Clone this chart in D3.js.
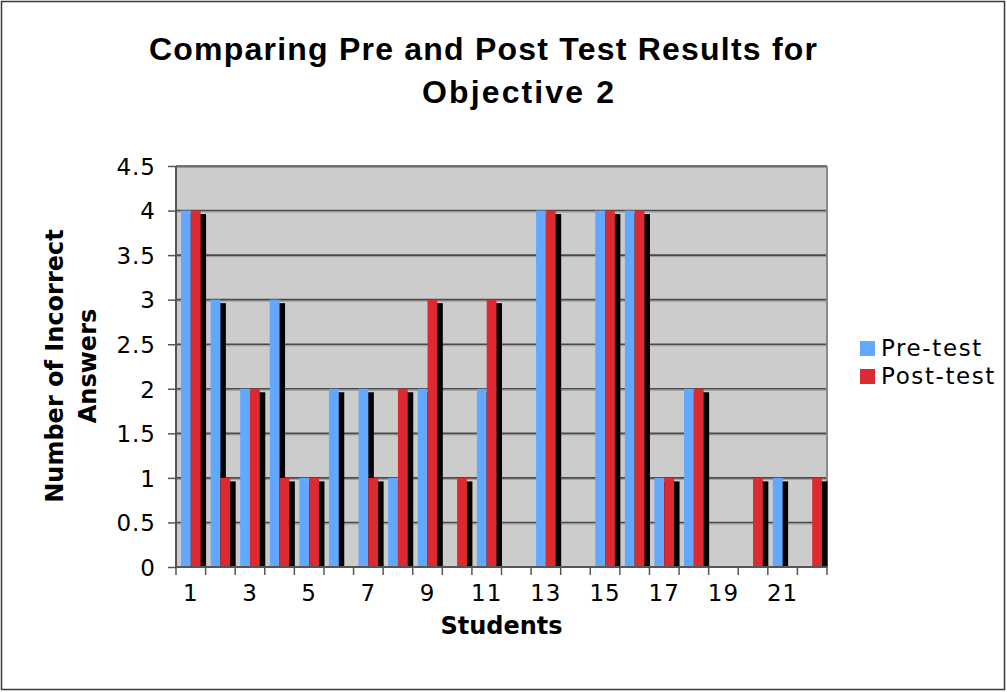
<!DOCTYPE html>
<html>
<head>
<meta charset="utf-8">
<script src="https://cdnjs.cloudflare.com/ajax/libs/d3/7.8.5/d3.min.js"></script>
<style>
body {margin:0; background:#fff;}
.tick-label {font-family:"DejaVu Sans",sans-serif; font-size:23px; fill:#000; letter-spacing:1px;}
.legend-label {font-family:"DejaVu Sans",sans-serif; font-size:23px; fill:#000; letter-spacing:1.6px;}
.axis-title {font-family:"DejaVu Sans",sans-serif; font-size:24px; font-weight:bold; fill:#000;}
.chart-title {font-family:"Liberation Sans",Arial,sans-serif; font-size:32px; font-weight:bold; fill:#000;}
</style>
</head>
<body>
<svg></svg>
<script>
// data
var students=["1","2","3","4","5","6","7","8","9","10","11","12","13","14","15","16","17","18","19","20","21","22"];
var preTest =[4,3,2,3,1,2,2,1,2,0,2,0,4,0,4,4,1,2,0,0,1,0];
var postTest=[4,1,2,1,1,0,1,2,3,1,3,0,4,0,4,4,1,2,0,1,0,1];
var seriesNames=["Pre-test","Post-test"];
var seriesColors=["#62a8ff","#dd2a30"];
var yTicks=[0,0.5,1,1.5,2,2.5,3,3.5,4,4.5];
var xTickLabels=["1","3","5","7","9","11","13","15","17","19","21"];

var width=1007, height=692;
var plotLeft=176, plotRight=827, plotTop=166, plotBottom=567;
var shadowDx=5.5, shadowDy=3.5;

var svg=d3.select("svg").attr("width",width).attr("height",height);

// outer frame
svg.append("rect")
	.attr("x",1.5).attr("y",1.5)
	.attr("width",width-4).attr("height",height-4)
	.attr("fill","#fff").attr("stroke","#3a3a3a").attr("stroke-width",1.5);

var x=d3.scaleBand().domain(students).range([plotLeft,plotRight]).paddingInner(0).paddingOuter(0);
var xSub=d3.scaleBand().domain(seriesNames).range([0,x.bandwidth()]).paddingInner(0).paddingOuter(0.51);
var y=d3.scaleLinear().domain([0,4.5]).range([plotBottom,plotTop]);

// plot area
svg.append("rect")
	.attr("x",plotLeft).attr("y",plotTop)
	.attr("width",plotRight-plotLeft).attr("height",plotBottom-plotTop)
	.attr("fill","#cccccc");

svg.append("clipPath").attr("id","plotclip")
	.append("rect")
	.attr("x",plotLeft).attr("y",plotTop-2)
	.attr("width",plotRight-plotLeft+8).attr("height",plotBottom-plotTop+2);

// gridlines, dark line with a soft line under it
var grid=svg.append("g");
grid.selectAll(".grid-shadow").data(yTicks.slice(1)).enter()
	.append("line")
	.attr("x1",plotLeft).attr("x2",plotRight)
	.attr("y1",function(d) {return y(d)+1.5;})
	.attr("y2",function(d) {return y(d)+1.5;})
	.attr("stroke","#9a9a9a").attr("stroke-width",1);
grid.selectAll(".grid").data(yTicks.slice(1)).enter()
	.append("line")
	.attr("x1",plotLeft).attr("x2",plotRight)
	.attr("y1",function(d) {return y(d);})
	.attr("y2",function(d) {return y(d);})
	.attr("stroke","#4a4a4a").attr("stroke-width",1.6);

// right border of plot
svg.append("line")
	.attr("x1",plotRight).attr("x2",plotRight)
	.attr("y1",plotTop).attr("y2",plotBottom)
	.attr("stroke","#8a8a8a").attr("stroke-width",2);

var rows=students.map(function(s,i) {
	return {student:s, values:[preTest[i],postTest[i]]};
});

var bars=svg.append("g").attr("clip-path","url(#plotclip)");

// each series: shadow then bar, so the red bar sits over the blue shadow
seriesNames.forEach(function(name,k) {
	var g=bars.append("g");
	var shown=rows.filter(function(d) {return d.values[k]>0;});
	g.selectAll(".shadow").data(shown).enter()
		.append("rect")
		.attr("x",function(d) {return x(d.student)+xSub(name)+shadowDx;})
		.attr("y",function(d) {return y(d.values[k])+shadowDy;})
		.attr("width",xSub.bandwidth())
		.attr("height",function(d) {return plotBottom-y(d.values[k]);})
		.attr("fill","#000");
	g.selectAll(".bar").data(shown).enter()
		.append("rect")
		.attr("x",function(d) {return x(d.student)+xSub(name);})
		.attr("y",function(d) {return y(d.values[k]);})
		.attr("width",xSub.bandwidth())
		.attr("height",function(d) {return plotBottom-y(d.values[k]);})
		.attr("fill",seriesColors[k]);
});

// y axis
var yAxis=svg.append("g").attr("transform","translate("+plotLeft+",0)")
	.call(d3.axisLeft(y).tickValues(yTicks).tickSize(8).tickPadding(12).tickFormat(function(d) {return String(d);}));
yAxis.select(".domain").attr("stroke","#555").attr("stroke-width",2).attr("d","M0,"+plotTop+"V"+plotBottom);
yAxis.selectAll(".tick line").attr("stroke","#555").attr("stroke-width",1.5);
yAxis.selectAll(".tick text").attr("class","tick-label").attr("dy","0.36em").attr("font-size",null).attr("font-family",null);

// x axis, ticks sit on the category boundaries
var xAxis=svg.append("g").attr("transform","translate(0,"+plotBottom+")")
	.call(d3.axisBottom(x).tickSize(0).tickPadding(0).tickFormat(""));
xAxis.select(".domain").attr("stroke","#555").attr("stroke-width",2).attr("d","M"+plotLeft+",0H"+plotRight);
xAxis.selectAll(".tick").remove();

var boundaries=students.map(function(s) {return x(s);}).concat([plotRight]);
xAxis.selectAll(".xtick").data(boundaries).enter()
	.append("line")
	.attr("x1",function(d) {return d;}).attr("x2",function(d) {return d;})
	.attr("y1",0).attr("y2",8)
	.attr("stroke","#555").attr("stroke-width",1.5);

xAxis.selectAll(".xlabel").data(xTickLabels).enter()
	.append("text")
	.attr("class","tick-label")
	.attr("x",function(d) {return x(d)+x.bandwidth()/2;})
	.attr("y",34)
	.attr("text-anchor","middle")
	.text(function(d) {return d;});

// titles
svg.append("text").attr("class","chart-title")
	.attr("x",483).attr("y",60).attr("text-anchor","middle")
	.attr("textLength",668).attr("lengthAdjust","spacing")
	.text("Comparing Pre and Post Test Results for");
svg.append("text").attr("class","chart-title")
	.attr("x",518).attr("y",103).attr("text-anchor","middle")
	.attr("textLength",192).attr("lengthAdjust","spacing")
	.text("Objective 2");

svg.append("text").attr("class","axis-title")
	.attr("x",(plotLeft+plotRight)/2).attr("y",634).attr("text-anchor","middle")
	.text("Students");

svg.append("text").attr("class","axis-title")
	.attr("transform","translate(63,366) rotate(-90)").attr("text-anchor","middle")
	.text("Number of Incorrect");
svg.append("text").attr("class","axis-title")
	.attr("transform","translate(96,366) rotate(-90)").attr("text-anchor","middle")
	.text("Answers");

// legend
var legend=svg.append("g").selectAll(".legend").data(seriesNames).enter()
	.append("g")
	.attr("transform",function(d,i) {return "translate(860,"+(341+i*28)+")";});
legend.append("rect")
	.attr("width",15).attr("height",15)
	.attr("fill",function(d,i) {return seriesColors[i];});
legend.append("text")
	.attr("class","legend-label")
	.attr("x",21).attr("y",15)
	.text(function(d) {return d;});
</script>
</body>
</html>
